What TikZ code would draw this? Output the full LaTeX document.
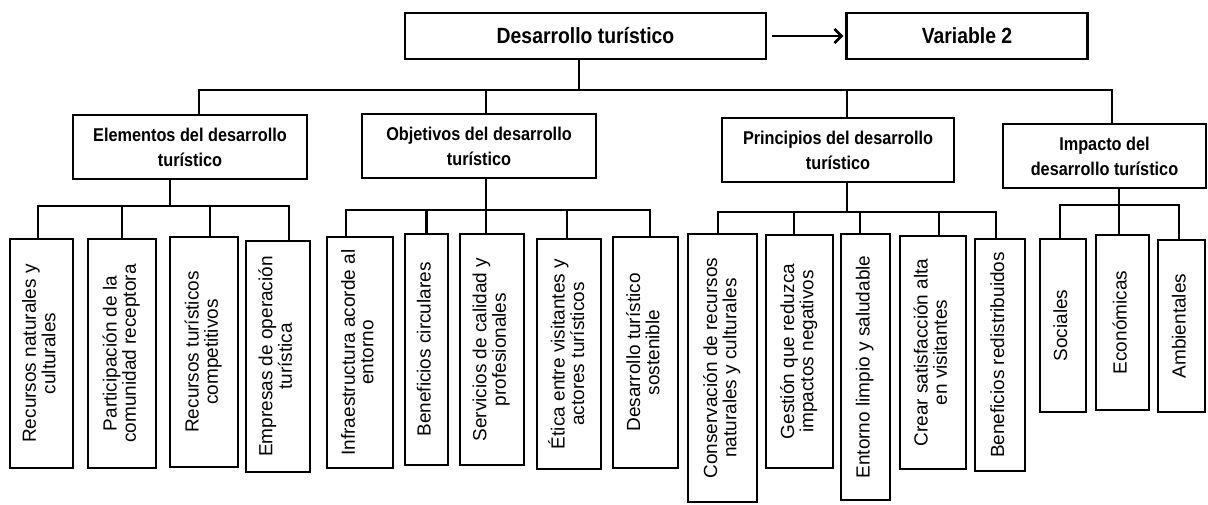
\documentclass[tikz,border=0pt]{standalone}
\usepackage{fontspec}
\setmainfont{Liberation Sans}
\newfontfamily\hdfont[FakeStretch=0.88]{Liberation Sans}
\usepackage{graphicx}
\usetikzlibrary{positioning, arrows.meta}

\newcommand{\vtext}[1]{\rotatebox{90}{\fontsize{19}{18.5}\selectfont
  \begin{tabular}{@{}c@{}}#1\end{tabular}}}

\begin{document}
\begin{tikzpicture}[x=1pt, y=-1pt,
        line width=2.5pt,
        box/.style={draw, inner sep=0pt, align=center},
        topbox/.style={box, minimum height=46pt,
              font=\hdfont\bfseries\fontsize{22}{26}\selectfont},
        headbox/.style={box, minimum height=64pt,
              font=\hdfont\bfseries\fontsize{18.5}{25}\selectfont},
        leaf/.style={box}]
        \useasboundingbox (0,0) rectangle (1208,504);

        \node[topbox,
              minimum width=361pt] (dt) at (585.5,36) {Desarrollo turístico};
        \node[topbox,
              minimum width=241pt,
              right=78pt of dt] (var) {Variable 2};

        \node[headbox,
              minimum width=234pt] (elem) at (190,147) {Elementos del desarrollo\\turístico};
        \node[headbox,
              minimum width=234pt] (obj) at (479,146) {Objetivos del desarrollo\\turístico};
        \node[headbox,
              minimum width=232pt] (prin) at (838,150) {Principios del desarrollo\\turístico};
        \node[headbox,
              minimum width=203pt] (imp) at (1104.5,156) {Impacto del\\desarrollo turístico};

        \node[leaf, minimum width=63pt, minimum height=229pt] (e1) at (41.5,353.5)
              {\vtext{Recursos naturales y\\culturales}};
        \node[leaf, minimum width=68pt, minimum height=229pt] (e2) at (122,353.5)
              {\vtext{Participación de la\\comunidad receptora}};
        \node[leaf, minimum width=68pt, minimum height=230pt] (e3) at (204,352)
              {\vtext{Recursos turísticos\\competitivos}};
        \node[leaf, minimum width=64pt, minimum height=231pt] (e4) at (278,356.5)
              {\vtext{Empresas de operación\\turística}};

        \node[leaf, minimum width=66pt, minimum height=231pt] (o1) at (360,352.5)
              {\vtext{Infraestructura acorde al\\entorno}};
        \node[leaf, minimum width=43pt, minimum height=231pt] (o2) at (426.5,349.5)
              {\vtext{Beneficios circulares}};
        \node[leaf, minimum width=64pt, minimum height=231pt] (o3) at (492,349.5)
              {\vtext{Servicios de calidad y\\profesionales}};
        \node[leaf, minimum width=64pt, minimum height=230pt] (o4) at (569,354)
              {\vtext{Ética entre visitantes y\\actores turísticos}};
        \node[leaf, minimum width=65pt, minimum height=231pt] (o5) at (645.5,352.5)
              {\vtext{Desarrollo turístico\\sostenible}};

        \node[leaf, minimum width=69pt, minimum height=268pt] (p1) at (722.5,368)
              {\vtext{Conservación de recursos\\naturales y culturales}};
        \node[leaf, minimum width=67pt, minimum height=233pt] (p2) at (799.5,351.5)
              {\vtext{Gestión que reduzca\\impactos negativos}};
        \node[leaf, minimum width=49pt, minimum height=266pt] (p3) at (865.5,367)
              {\vtext{Entorno limpio y saludable}};
        \node[leaf, minimum width=66pt, minimum height=233pt] (p4) at (933,352.5)
              {\vtext{Crear satisfacción alta\\en visitantes}};
        \node[leaf, minimum width=50pt, minimum height=232pt] (p5) at (1000,355)
              {\vtext{Beneficios redistribuidos}};

        \node[leaf, minimum width=46pt, minimum height=173pt] (i1) at (1063,325.5)
              {\vtext{Sociales}};
        \node[leaf, minimum width=53pt, minimum height=175pt] (i2) at (1122.5,322.5)
              {\vtext{Económicas}};
        \node[leaf, minimum width=47pt, minimum height=172pt] (i3) at (1181.5,326)
              {\vtext{Ambientales}};

        \coordinate (b0) at (579,90);
        \coordinate (be) at (170,206);
        \coordinate (bo) at (486,210);
        \coordinate (bp) at (847,212);
        \coordinate (bi) at (1119,205);

        \draw[-{Straight Barb[length=7pt,width=14pt]},
              shorten <=5pt,
              shorten >=2pt] (dt) -- (var);

        \draw ([xshift=-6.5pt]dt.south) -- (b0);
        \draw ([xshift=9pt]elem.north) |- (b0) -| ([xshift=7.5pt]imp.north);
        \draw ([xshift=7pt]obj.north) -- ([xshift=7pt]obj.north |- b0);
        \draw ([xshift=9pt]prin.north) -- ([xshift=9pt]prin.north |- b0);

        \draw ([xshift=-20pt]elem.south) -- (be);
        \draw ([xshift=-3.5pt]e1.north) |- (be) -| ([xshift=11pt]e4.north);
        \draw (e2.north) -- (e2.north |- be);
        \draw ([xshift=6pt]e3.north) -- ([xshift=6pt]e3.north |- be);

        \draw ([xshift=7pt]obj.south) -- (bo) -- ([xshift=-6pt]o3.north);
        \draw ([xshift=-14pt]o1.north) |- (bo) -| ([xshift=4.5pt]o5.north);
        \draw (o2.north) -- (o2.north |- bo);
        \draw ([xshift=-2pt]o4.north) -- ([xshift=-2pt]o4.north |- bo);

        \draw ([xshift=9pt]prin.south) -- (bp);
        \draw ([xshift=-4.5pt]p1.north) |- (bp) -| ([xshift=-4pt]p5.north);
        \draw ([xshift=-5.5pt]p2.north) -- ([xshift=-5.5pt]p2.north |- bp);
        \draw ([xshift=-5.5pt]p3.north) -- ([xshift=-5.5pt]p3.north |- bp);
        \draw ([xshift=6pt]p4.north) -- ([xshift=6pt]p4.north |- bp);

        \draw ([xshift=14.5pt]imp.south) -- (bi) -- ([xshift=-3.5pt]i2.north);
        \draw ([xshift=-3pt]i1.north) |- (bi) -| ([xshift=-2.5pt]i3.north);
\end{tikzpicture}
\end{document}
